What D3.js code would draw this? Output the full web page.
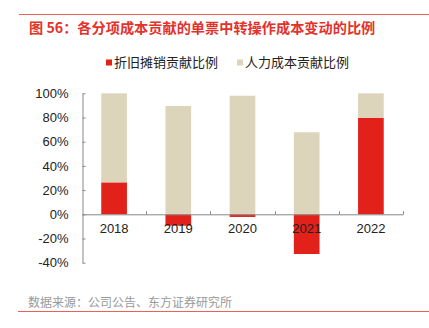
<!DOCTYPE html>
<html><head><meta charset="utf-8">
<script src="https://cdn.jsdelivr.net/npm/d3@7"></script>
<style>
html,body{margin:0;padding:0;background:#fff;}
svg{display:block;}
</style></head>
<body>
<svg id="c" width="429" height="328"></svg>
<script>
const categories = ["2018","2019","2020","2021","2022"];
const seriesNames = ["折旧摊销贡献比例","人力成本贡献比例"];
const depreciation = [26.4, -9.4, -2.2, -32.8, 79.8];
const labor = [73.6, 89.5, 98.0, 67.8, 20.2];
const yTicks = [-40,-20,0,20,40,60,80,100];
const colors = ["#e2211b","#ddd4bc"];
const titleText = "图 56：各分项成本贡献的单票中转操作成本变动的比例";
const sourceText = "数据来源：公司公告、东方证券研究所";

const svg = d3.select("#c");
const cjk = "'Noto Sans CJK SC', sans-serif";
const latin = "'Liberation Sans', Arial, sans-serif";

// top rule and title
svg.append("line").attr("x1",19).attr("x2",429).attr("y1",14.5).attr("y2",14.5)
  .attr("stroke","#e8615a").attr("stroke-width",1);
svg.append("text").attr("x",29).attr("y",32.5).text(titleText)
  .attr("font-family",cjk).attr("font-size",14.2).attr("font-weight","bold").attr("fill","#e2322b");

// legend
const lg = svg.append("g");
const legX = [106, 237], legT = [114, 245];
seriesNames.forEach((n,i)=>{
  lg.append("rect").attr("x",legX[i]).attr("y",59.5).attr("width",6).attr("height",6).attr("fill",colors[i]);
  lg.append("text").attr("x",legT[i]).attr("y",67).text(n)
    .attr("font-family",cjk).attr("font-size",13).attr("fill","#222");
});

// scales
const x = d3.scaleBand().domain(categories).range([82,403]).paddingInner(0.6).paddingOuter(0.3);
const y = d3.scaleLinear().domain([-40,100]).range([262.7,93.3]);

const data = categories.map((c,i)=>({cat:c, dep:depreciation[i], lab:labor[i]}));
const stack = d3.stack().keys(["dep","lab"]).offset(d3.stackOffsetDiverging);
const series = stack(data);

svg.append("g").selectAll("g").data(series).join("g")
  .attr("fill",(d,i)=>colors[i])
  .selectAll("rect").data(d=>d).join("rect")
  .attr("x",d=>x(d.data.cat))
  .attr("width",x.bandwidth())
  .attr("y",d=>y(Math.max(d[0],d[1])))
  .attr("height",d=>Math.abs(y(d[0])-y(d[1])));

// y axis
const yAxis = d3.axisLeft(y).tickValues(yTicks).tickFormat(d=>d+"%").tickSizeInner(-3).tickSizeOuter(0).tickPadding(14);
const gy = svg.append("g").attr("transform","translate(82.5,0)").call(yAxis);
gy.select(".domain").attr("stroke","#888");
gy.selectAll(".tick line").attr("stroke","#888");
gy.selectAll("text").attr("font-family",latin).attr("font-size",13).attr("fill","#222");

// x axis at zero
const xb = d3.scaleBand().domain(categories).range([82,403]);
const xAxis = d3.axisBottom(xb).tickSize(0).tickPadding(9);
const gx = svg.append("g").attr("transform",`translate(0,${y(0)})`).call(xAxis);
gx.select(".domain").attr("stroke","#888");
gx.selectAll("text").attr("font-family",latin).attr("font-size",13).attr("fill","#222");
// category separator ticks (pointing up)
const seps = categories.map((c,i)=>xb(c)+xb.bandwidth()).slice(0);
gx.selectAll(".sep").data(seps).join("line").attr("class","sep")
  .attr("x1",d=>Math.round(d)+0.5).attr("x2",d=>Math.round(d)+0.5)
  .attr("y1",0).attr("y2",-3).attr("stroke","#888");

// source + bottom rule
svg.append("text").attr("x",28).attr("y",307).text(sourceText)
  .attr("font-family",cjk).attr("font-size",12).attr("fill","#999");
svg.append("line").attr("x1",18).attr("x2",429).attr("y1",311.5).attr("y2",311.5)
  .attr("stroke","#e8615a").attr("stroke-width",1);
</script>
</body></html>
